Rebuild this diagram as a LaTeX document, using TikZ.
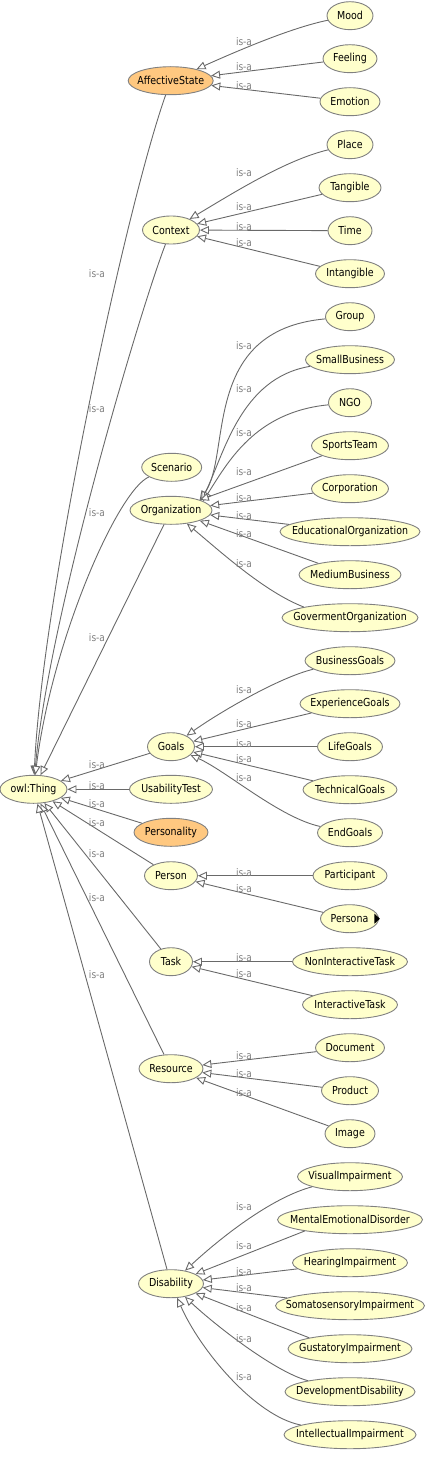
\documentclass[tikz,border=0pt]{standalone}
\usepackage{fontspec}
\setmainfont{DejaVu Sans}[FakeStretch=0.86]
\usetikzlibrary{arrows.meta,shapes.geometric}
\definecolor{OntoYellow}{RGB}{255,255,204}
\definecolor{OntoOrange}{RGB}{255,200,128}
\definecolor{OntoBorder}{RGB}{128,128,128}
\definecolor{OntoEdge}{RGB}{105,105,105}
\definecolor{OntoLabel}{RGB}{128,128,128}
\tikzset{
  onto/cls/.style={
    ellipse,
    draw=OntoBorder,
    line width=0.9pt,
    fill=OntoYellow,
    inner sep=0pt,
    minimum height=28pt,
    font=\fontsize{11}{12}\selectfont,
    execute at begin node={\hbox to 0pt\bgroup\hss},
    execute at end node={\hss\egroup}
  },
  onto/state/.style={onto/cls, fill=OntoOrange},
  onto/isa/.style={-{Triangle[length=9pt,width=8pt,fill=white]}, line width=0.9pt, draw=OntoEdge},
  onto/lbl/.style={font=\fontsize{10.5}{11}\selectfont, text=OntoLabel, inner sep=0pt}
}

\begin{document}
\begin{tikzpicture}[x=1pt,y=-1pt]
  \useasboundingbox (0,0) rectangle (434,1458);
  % root and first level
  \node[onto/cls,minimum width=67] (thing) at (33.5,789.3) {owl:Thing};
  \node[onto/state,minimum width=85] (affect) at (170.7,80.7) {AffectiveState};
  \node[onto/cls,minimum width=57] (context) at (171,230) {Context};
  \node[onto/cls,minimum width=60] (scenario) at (171.7,467.3) {Scenario};
  \node[onto/cls,minimum width=82] (org) at (171,510.3) {Organization};
  \node[onto/cls,minimum width=47] (goals) at (171,746.7) {Goals};
  \node[onto/cls,minimum width=83] (usability) at (171,789.3) {UsabilityTest};
  \node[onto/state,minimum width=74] (personality) at (171,832.3) {Personality};
  \node[onto/cls,minimum width=53] (person) at (171,875.7) {Person};
  \node[onto/cls,minimum width=43] (task) at (171,961.7) {Task};
  \node[onto/cls,minimum width=64] (resource) at (171,1068.7) {Resource};
  \node[onto/cls,minimum width=65] (disab) at (171,1283.7) {Disability};
  % second level
  \node[onto/cls,minimum width=46] (mood) at (350,15.7) {Mood};
  \node[onto/cls,minimum width=54] (feeling) at (350,58.7) {Feeling};
  \node[onto/cls,minimum width=60] (emotion) at (350,101.7) {Emotion};
  \node[onto/cls,minimum width=46] (place) at (350,144.7) {Place};
  \node[onto/cls,minimum width=62] (tangible) at (350,187.7) {Tangible};
  \node[onto/cls,minimum width=44] (time) at (350,230.7) {Time};
  \node[onto/cls,minimum width=69] (intangible) at (350,273.7) {Intangible};
  \node[onto/cls,minimum width=49] (group) at (350,316.7) {Group};
  \node[onto/cls,minimum width=89] (smallbiz) at (350,359.7) {SmallBusiness};
  \node[onto/cls,minimum width=43] (ngo) at (350,402.7) {NGO};
  \node[onto/cls,minimum width=77] (sports) at (350,445.7) {SportsTeam};
  \node[onto/cls,minimum width=77] (corp) at (350,488.7) {Corporation};
  \node[onto/cls,minimum width=140] (edu) at (350,531.7) {EducationalOrganization};
  \node[onto/cls,minimum width=102] (medium) at (350,574.7) {MediumBusiness};
  \node[onto/cls,minimum width=136] (gov) at (350,617.7) {GovermentOrganization};
  \node[onto/cls,minimum width=90] (bizgoals) at (350,660.7) {BusinessGoals};
  \node[onto/cls,minimum width=100] (expgoals) at (350,703.7) {ExperienceGoals};
  \node[onto/cls,minimum width=65] (lifegoals) at (350,746.7) {LifeGoals};
  \node[onto/cls,minimum width=94] (techgoals) at (350,789.7) {TechnicalGoals};
  \node[onto/cls,minimum width=65] (endgoals) at (350,832.7) {EndGoals};
  \node[onto/cls,minimum width=74] (participant) at (350,875.7) {Participant};
  \node[onto/cls,minimum width=58] (persona) at (349.5,918.7) {Persona};
  \node[onto/cls,minimum width=115] (nonint) at (350,961.7) {NonInteractiveTask};
  \node[onto/cls,minimum width=95] (inter) at (350,1004.7) {InteractiveTask};
  \node[onto/cls,minimum width=69] (document) at (350,1047.7) {Document};
  \node[onto/cls,minimum width=57] (product) at (350,1090.7) {Product};
  \node[onto/cls,minimum width=50] (image) at (350,1133.7) {Image};
  \node[onto/cls,minimum width=105] (visual) at (350,1176.7) {VisualImpairment};
  \node[onto/cls,minimum width=145] (mental) at (350,1219.7) {MentalEmotionalDisorder};
  \node[onto/cls,minimum width=115] (hearing) at (350,1262.7) {HearingImpairment};
  \node[onto/cls,minimum width=149] (somato) at (350,1305.7) {SomatosensoryImpairment};
  \node[onto/cls,minimum width=124] (gustatory) at (350,1348.7) {GustatoryImpairment};
  \node[onto/cls,minimum width=130] (develop) at (350,1391.7) {DevelopmentDisability};
  \node[onto/cls,minimum width=132] (intellect) at (350,1434.7) {IntellectualImpairment};
  \fill[shift={(persona.east)}] (-4.5,-5) -- (1,0) -- (-4.5,5) -- cycle;
  % is-a edges to owl:Thing
  \draw[onto/isa] (affect) .. controls (125,210) and (42,600) .. (thing);
  \draw[onto/isa] (context) .. controls (140,310) and (48,620) .. (thing);
  \draw[onto/isa] (scenario) .. controls (118,490) and (52,640) .. (thing);
  \draw[onto/isa] (org) -- (thing);
  \draw[onto/isa] (goals) -- (thing);
  \draw[onto/isa] (usability) -- (thing);
  \draw[onto/isa] (personality) -- (thing);
  \draw[onto/isa] (person) -- (thing);
  \draw[onto/isa] (task) -- (thing);
  \draw[onto/isa] (resource) -- (thing);
  \draw[onto/isa] (disab) -- (thing);
  % second level edges
  \draw[onto/isa] (mood) .. controls (290,28) and (235,52) .. (affect);
  \draw[onto/isa] (feeling) -- (affect);
  \draw[onto/isa] (emotion) -- (affect);
  \draw[onto/isa] (place) .. controls (285,160) and (230,195) .. (context);
  \draw[onto/isa] (tangible) -- (context);
  \draw[onto/isa] (time) -- (context);
  \draw[onto/isa] (intangible) -- (context);
  \draw[onto/isa] (group) .. controls (200,330) and (232,455) .. (org.20);
  \draw[onto/isa] (smallbiz) .. controls (240,378) and (224,455) .. (org.18);
  \draw[onto/isa] (ngo) .. controls (255,412) and (228,462) .. (org.16);
  \draw[onto/isa] (sports) -- (org);
  \draw[onto/isa] (corp) -- (org);
  \draw[onto/isa] (edu) -- (org);
  \draw[onto/isa] (medium) -- (org);
  \draw[onto/isa] (gov.167) .. controls (265,592) and (222,553) .. (org);
  \draw[onto/isa] (bizgoals) .. controls (280,677) and (220,712) .. (goals);
  \draw[onto/isa] (expgoals) -- (goals);
  \draw[onto/isa] (lifegoals) -- (goals);
  \draw[onto/isa] (techgoals) -- (goals);
  \draw[onto/isa] (endgoals) .. controls (280,818) and (225,770) .. (goals);
  \draw[onto/isa] (participant) -- (person);
  \draw[onto/isa] (persona) -- (person);
  \draw[onto/isa] (nonint) -- (task);
  \draw[onto/isa] (inter) -- (task);
  \draw[onto/isa] (document) -- (resource);
  \draw[onto/isa] (product) -- (resource);
  \draw[onto/isa] (image) -- (resource);
  \draw[onto/isa] (visual) .. controls (270,1198) and (218,1240) .. (disab);
  \draw[onto/isa] (mental.194) -- (disab);
  \draw[onto/isa] (hearing) -- (disab);
  \draw[onto/isa] (somato) -- (disab);
  \draw[onto/isa] (gustatory.165) -- (disab);
  \draw[onto/isa] (develop) .. controls (275,1372) and (215,1325) .. (disab);
  \draw[onto/isa] (intellect) .. controls (255,1416) and (200,1350) .. (disab);
  % edge labels
  \foreach \n/\y in {affect/274,context/409,scenario/512.7,org/637.7,goals/764.3,usability/786,
      personality/803.3,person/823,task/854,resource/897.3,disab/974.3}
    \node[onto/lbl] (isa-\n) at (97,\y) {is-a};
  \foreach \n/\y in {mood/41.7,feeling/67,emotion/85.3,place/173,tangible/207,time/227,intangible/243,
      group/346,smallbiz/389,ngo/432.3,sports/471.3,corp/497.3,edu/515.3,medium/533.3,gov/564,
      bizgoals/689.3,expgoals/723.3,lifegoals/743.3,techgoals/759,endgoals/778,participant/872.3,
      persona/888.3,nonint/957.7,inter/974,document/1056,product/1073.3,image/1092.3,visual/1206.7,
      mental/1245.7,hearing/1271.3,somato/1288,gustatory/1307.3,develop/1338.7,intellect/1376.7}
    \node[onto/lbl] (isa-\n) at (244,\y) {is-a};
\end{tikzpicture}
\end{document}
